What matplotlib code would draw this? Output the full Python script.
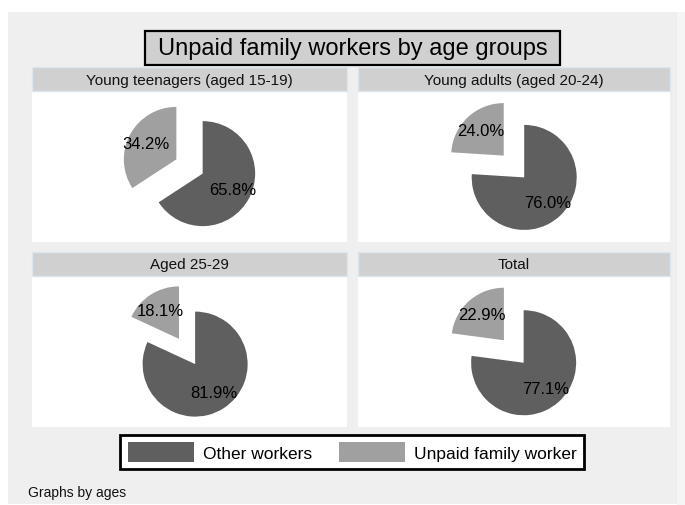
import matplotlib
matplotlib.use("Agg")
import matplotlib.pyplot as plt
from matplotlib.patches import Rectangle, Patch
from matplotlib.transforms import Bbox

plt.rcParams['font.family'] = ['Liberation Sans', 'DejaVu Sans']

# ---- data ----
panel_titles = ["Young teenagers (aged 15-19)", "Young adults (aged 20-24)",
                "Aged 25-29", "Total"]
other_workers = [65.8, 76.0, 81.9, 77.1]
unpaid_family = [34.2, 24.0, 18.1, 22.9]
series_labels = ["Other workers", "Unpaid family worker"]
chart_title = "Unpaid family workers by age groups"
note = "Graphs by ages"

# ---- style ----
W, H = 685, 506
DARK = "#5f5f5f"
LIGHT = "#a0a0a0"
BG = "#efefef"
HEAD = "#d0d0d0"
R_PX = 52.5          # pie radius in pixels
EXPLODE = 0.57

fig = plt.figure(figsize=(W / 100, H / 100), dpi=100, facecolor="white")


def fx(x):
    return x / W


def fy(y):
    return 1 - y / H


def rect(x0, y0, x1, y1, **kw):
    r = Rectangle((fx(x0), fy(y1)), fx(x1) - fx(x0), fy(y0) - fy(y1),
                  transform=fig.transFigure, **kw)
    fig.patches.append(r)
    return r


# background
rect(677, 13, 685, 506, facecolor="#f5f5f5", edgecolor="none", zorder=-10)
rect(8, 13, 677, 505, facecolor=BG, edgecolor="none", zorder=-10)

# title box
rect(145, 32, 560, 66, facecolor=HEAD, edgecolor="black", linewidth=1.6, zorder=2)
fig.text(fx(352.5), fy(49.5), chart_title, ha="center", va="center",
         fontsize=17, color="black", zorder=3)

# panels: (x0, x1, header_top, header_bottom, white_bottom)
cols = [(32, 347), (358, 670)]
rows = [(68, 92, 243), (253, 277, 428)]

for i, title in enumerate(panel_titles):
    x0, x1 = cols[i % 2]
    ht, hb, wb = rows[i // 2]
    rect(x0, ht, x1, hb, facecolor=HEAD, edgecolor="#dbe6ee", linewidth=1, zorder=2)
    fig.text(fx((x0 + x1) / 2), fy((ht + hb) / 2 + 0.5), title, ha="center",
             va="center", fontsize=11, color="#111111", zorder=3)

    ax = fig.add_axes([fx(x0), fy(wb), fx(x1) - fx(x0), fy(hb) - fy(wb)])
    ax.set_zorder(1)
    ax.set_facecolor("white")
    wedges, texts, autotexts = ax.pie(
        [other_workers[i], unpaid_family[i]],
        startangle=90, counterclock=False,
        explode=[0, EXPLODE], colors=[DARK, LIGHT],
        autopct="%1.1f%%", pctdistance=0.65,
        wedgeprops=dict(linewidth=0),
        textprops=dict(fontsize=12, color="black"))
    bb = Bbox.union([w.get_path().get_extents() for w in wedges])
    cx, cy = (bb.x0 + bb.x1) / 2, (bb.y0 + bb.y1) / 2
    half_w = (x1 - x0) / 2 / R_PX
    half_h = (wb - hb) / 2 / R_PX
    ax.set_aspect("auto")
    ax.set_xlim(cx - half_w, cx + half_w)
    ax.set_ylim(cy - half_h, cy + half_h)
    ax.set_frame_on(True)
    for s in ax.spines.values():
        s.set_visible(False)
    ax.set_xticks([])
    ax.set_yticks([])

# legend
handles = [Patch(facecolor=DARK, edgecolor="none"),
           Patch(facecolor=LIGHT, edgecolor="none")]
leg = fig.legend(handles, series_labels, loc="center",
                 bbox_to_anchor=(fx(352), fy(453)), ncol=2,
                 fontsize=12.5, frameon=True, fancybox=False,
                 edgecolor="black", facecolor="white", framealpha=1,
                 handlelength=3.8, handleheight=1.32, handletextpad=0.52,
                 columnspacing=1.55, borderpad=0.45)
leg.get_frame().set_linewidth(2.0)

fig.text(fx(28), fy(493), note, ha="left", va="center", fontsize=10, color="#111111")

fig.savefig("out.png", dpi=100, facecolor=fig.get_facecolor())
